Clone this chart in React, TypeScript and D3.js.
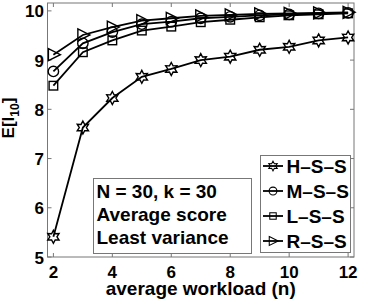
import React, { useRef, useEffect } from "react";
import * as d3 from "d3";

const workload = [2, 3, 4, 5, 6, 7, 8, 9, 10, 11, 12];
const hss = [5.41, 7.63, 8.23, 8.66, 8.82, 9.0, 9.07, 9.21, 9.27, 9.4, 9.46];
const mss = [8.77, 9.34, 9.57, 9.73, 9.78, 9.85, 9.88, 9.91, 9.93, 9.95, 9.96];
const lss = [8.48, 9.16, 9.4, 9.6, 9.68, 9.77, 9.82, 9.87, 9.91, 9.93, 9.95];
const rss = [9.11, 9.51, 9.67, 9.8, 9.85, 9.9, 9.92, 9.94, 9.95, 9.96, 9.97];
const seriesNames = ["H\u2013S\u2013S", "M\u2013S\u2013S", "L\u2013S\u2013S", "R\u2013S\u2013S"];
const xTicks = [2, 4, 6, 8, 10, 12];
const yTicks = [5, 6, 7, 8, 9, 10];
const noteLines = ["N = 30, k = 30", "Average score", "Least variance"];

// draws a marker shape centred on 0,0
const drawMarker = (g: any, kind: string) => {
    if (kind === "hex") {
        let r = 6.5;
        let pts = [];
        for (let i = 0; i < 12; i++) {
            let a = (Math.PI / 6) * i - Math.PI / 2;
            let rr = i % 2 === 0 ? r : r * 0.55;
            pts.push([rr * Math.cos(a), rr * Math.sin(a)]);
        }
        g.append("path").attr("d", "M" + pts.join("L") + "Z");
    } else if (kind === "circle") {
        g.append("circle").attr("r", 5.2);
    } else if (kind === "square") {
        g.append("rect").attr("x", -4.3).attr("y", -4.3).attr("width", 8.6).attr("height", 8.6);
    } else {
        g.append("path").attr("d", "M-5,-6L7,0L-5,6Z");
    }
    g.selectAll("*").attr("fill", "none").attr("stroke", "#000").attr("stroke-width", 1.4);
};

const App = () => {
    const svgRef = useRef(null);

    useEffect(() => {
        let width = 378;
        let height = 300;
        let left = 47.5, right = 354, top = 3, bottom = 257;
        let font = "'Liberation Sans', Arial, Helvetica, sans-serif";

        let svg = d3.select(svgRef.current);
        svg.selectAll("*").remove();

        let x = d3.scaleLinear().domain([1.8, 12.2]).range([left, right]);
        let y = d3.scaleLinear().domain([5, 10.16]).range([bottom, top]);

        svg.append("rect").attr("width", width).attr("height", height).attr("fill", "#fff");

        // axes box with inward ticks on all sides
        let axis = svg.append("g").attr("stroke", "#777").attr("stroke-width", 1);
        axis.append("rect")
            .attr("x", left).attr("y", top)
            .attr("width", right - left).attr("height", bottom - top)
            .attr("fill", "none");
        xTicks.forEach(t => {
            axis.append("line").attr("x1", x(t)).attr("x2", x(t)).attr("y1", bottom).attr("y2", bottom - 4);
            axis.append("line").attr("x1", x(t)).attr("x2", x(t)).attr("y1", top).attr("y2", top + 4);
        });
        yTicks.forEach(t => {
            axis.append("line").attr("y1", y(t)).attr("y2", y(t)).attr("x1", left).attr("x2", left + 4);
            axis.append("line").attr("y1", y(t)).attr("y2", y(t)).attr("x1", right).attr("x2", right - 4);
        });

        let labels = svg.append("g")
            .attr("font-family", font).attr("font-weight", "bold").attr("font-size", 17).attr("fill", "#000");
        xTicks.forEach(t => {
            labels.append("text").attr("x", x(t)).attr("y", 277.5).attr("text-anchor", "middle").text(t);
        });
        yTicks.forEach(t => {
            labels.append("text").attr("x", 44).attr("y", y(t) + 6.5).attr("text-anchor", "end").text(t);
        });
        labels.append("text").attr("x", (left + right) / 2).attr("y", 294.5).attr("text-anchor", "middle")
            .attr("font-size", 19)
            .text("average workload (n)");
        let yl = labels.append("text")
            .attr("transform", "translate(14," + 118 + ") rotate(-90)")
            .attr("text-anchor", "middle");
        yl.append("tspan").text("E[I");
        yl.append("tspan").attr("font-size", 12).attr("dy", 5).text("10");
        yl.append("tspan").attr("dy", -5).text("]");

        let all = [hss, mss, lss, rss];
        let kinds = ["hex", "circle", "square", "tri"];
        let line = d3.line<number>().x((d, i) => x(workload[i])).y(d => y(d));

        all.forEach((vals, si) => {
            svg.append("path").attr("d", line(vals))
                .attr("fill", "none").attr("stroke", "#000").attr("stroke-width", 1.8);
            vals.forEach((v, i) => {
                let g = svg.append("g").attr("transform", "translate(" + x(workload[i]) + "," + y(v) + ")");
                drawMarker(g, kinds[si]);
            });
        });

        // note box
        svg.append("rect").attr("x", 93.5).attr("y", 178.5).attr("width", 158).attr("height", 75)
            .attr("fill", "#fff").attr("stroke", "#777");
        noteLines.forEach((s, i) => {
            svg.append("text").attr("x", 96.5).attr("y", 197.5 + i * 23)
                .attr("font-family", font).attr("font-weight", "bold").attr("font-size", 19)
                .text(s);
        });

        // legend
        svg.append("rect").attr("x", 260.5).attr("y", 155.5).attr("width", 90).attr("height", 97)
            .attr("fill", "#fff").attr("stroke", "#777");
        seriesNames.forEach((s, i) => {
            let ly = 166 + i * 25;
            svg.append("line").attr("x1", 263).attr("x2", 283).attr("y1", ly).attr("y2", ly)
                .attr("stroke", "#000").attr("stroke-width", 1.8);
            let g = svg.append("g").attr("transform", "translate(273," + ly + ") scale(0.75)");
            drawMarker(g, kinds[i]);
            svg.append("text").attr("x", 286.5).attr("y", ly + 6.5)
                .attr("font-family", font).attr("font-weight", "bold").attr("font-size", 19)
                .text(s);
        });
        labels.raise();
    }, []);

    return (
        <svg ref={svgRef} width={378} height={300}
            style={{ position: "absolute", left: 0, top: 0 }}></svg>
    );
};

export default App;
